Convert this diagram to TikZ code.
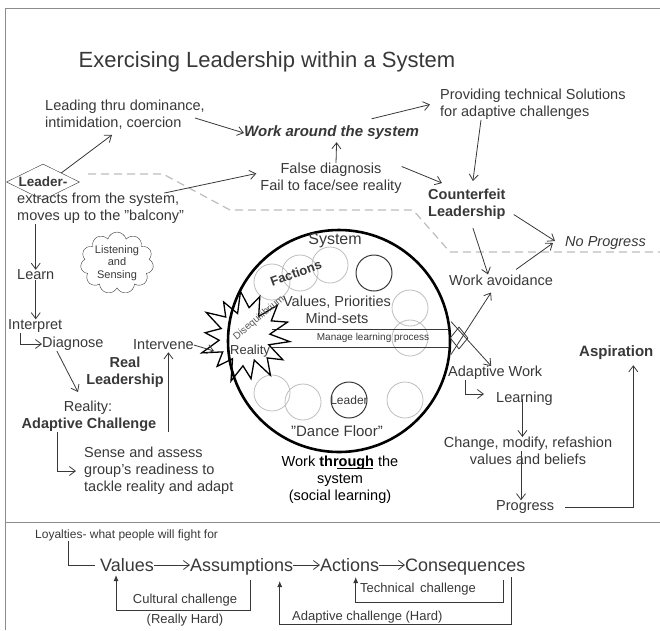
\documentclass[tikz,border=0pt]{standalone}
\usepackage{fontspec}
\setmainfont{Liberation Sans}
\usetikzlibrary{arrows.meta,shapes.geometric,shapes.symbols}
\definecolor{ink}{HTML}{383838}
\definecolor{faint}{HTML}{BDBDBD}
\definecolor{rule}{HTML}{8C8C8C}
\begin{document}
\begin{tikzpicture}[x=1pt,y=-1pt,
  >={Straight Barb[length=6pt,width=9pt]},
  txt/.style={inner sep=0pt,text=ink,font=\fontsize{14.5}{17}\selectfont},
  bold/.style={inner sep=0pt,text=ink,font=\fontsize{14.5}{17}\selectfont\bfseries},
  small/.style={inner sep=0pt,text=ink,font=\fontsize{10}{12}\selectfont},
  chain/.style={inner sep=0pt,text=ink,font=\fontsize{18}{20}\selectfont,anchor=base west},
  link/.style={->,ink,line width=0.8pt},
  uplink/.style={ink,line width=0.8pt,-{Latex[length=6pt,width=5pt]}},
  bracket/.style={ink,line width=0.8pt}]
\useasboundingbox (0,0) rectangle (660,630);
\draw[rule,line width=1pt] (5,630) -- (5,8) -- (660,8);
\draw[rule,line width=1pt] (5,522) -- (660,522);
\draw[faint,line width=1.2pt,dash pattern=on 8pt off 5pt]
  (88,174) -- (163,174) -- (230,210) -- (413,210) -- (450,252) -- (660,252);

% title and the upper (counterfeit) half
\node[inner sep=0pt,text=ink,font=\fontsize{22}{26}\selectfont] (title) at (267,62) {Exercising Leadership within a System};
\node[txt,anchor=west,align=left] (lead1) at (45,115) {Leading thru dominance,\\intimidation, coercion};
\node[inner sep=0pt,text=ink,font=\fontsize{15}{17}\selectfont\bfseries\itshape,anchor=west] (around) at (244,133) {Work around the system};
\node[txt,anchor=west,align=left] (prov) at (440,104.5) {Providing technical Solutions\\for adaptive challenges};
\node[diamond,draw=ink,aspect=2,minimum width=73pt,minimum height=36pt,inner sep=0pt,text=ink,
  font=\fontsize{13.5}{16}\selectfont\bfseries] (leader) at (43,182) {Leader-};
\node[txt,anchor=west,align=left] (extr) at (17,208.5) {extracts from the system,\\moves up to the "balcony"};
\node[txt,align=center] (false) at (331,178.5) {False diagnosis\\Fail to face/see reality};
\node[bold,anchor=west,align=left] (counter) at (428,204.5) {Counterfeit\\Leadership};
\node[txt,anchor=west,font=\fontsize{14.5}{17}\selectfont\itshape] (noprog) at (565,243) {No Progress};
\node[txt,anchor=west] (avoid) at (449,280) {Work avoidance};

\draw[link] (leader.north east) -- ([xshift=-13pt,yshift=-5pt]lead1.south);
\draw[link] ([xshift=-10pt,yshift=-3pt]lead1.east) -- (around.west);
\draw[link] ([xshift=40pt,yshift=7pt]around.north) -- ([xshift=-10pt]prov.west);
\draw[link] ([xshift=5pt]false.north) -- ([xshift=5pt,yshift=-2pt]around.south);
\draw[link] ([xshift=-20pt]extr.north east) -- ([xshift=-4pt,yshift=5pt]false.west);
\draw[link] ([yshift=12pt]false.east) -- ([xshift=14pt,yshift=6pt]counter.north west);
\draw[link] ([xshift=41pt]prov.south west) -- ([xshift=6pt,yshift=8pt]counter.north);
\draw[link] ([xshift=8pt,yshift=-10pt]counter.east) -- ([xshift=-10pt,yshift=2pt]noprog.west);
\draw[link] ([xshift=15pt,yshift=5pt]avoid.north) -- ([xshift=-12pt]noprog.west);
\draw[link] ([xshift=6pt,yshift=-8pt]counter.south) -- ([xshift=-13pt]avoid.north);

% left column (real leadership)
\node[txt,anchor=west] (learn) at (17,275) {Learn};
\node[txt,anchor=west] (interp) at (8,326) {Interpret};
\node[txt,anchor=west] (diag) at (42,344) {Diagnose};
\node[cloud,draw=ink,cloud puffs=11,aspect=1.3,minimum width=72pt,minimum height=58pt,inner sep=0pt,
  text=ink,align=center,font=\fontsize{11}{12.5}\selectfont] (cloud) at (117,263) {Listening\\and\\Sensing};
\node[txt,anchor=west] (interv) at (133,345) {Intervene};
\node[bold,align=center] (real) at (125,372) {Real\\Leadership};
\node[txt] (realc) at (88,408) {Reality:};
\node[bold] (adapt) at (89,425) {Adaptive Challenge};
\node[txt,anchor=west,align=left] (sense) at (84,471) {Sense and assess\\group's readiness to\\tackle reality and adapt};

\draw[link] (learn.north |- extr.south) -- (learn.north);
\draw[link] (learn.south) -- (learn.south |- interp.north);
\draw[link] ([xshift=12pt]interp.south west) |- (diag.west);
\draw[link] ([xshift=-16pt]diag.south) -- ([xshift=-10pt,yshift=9pt]realc.north);
\draw[link] ([xshift=5pt]interv.south |- adapt.south) -- ([xshift=5pt,yshift=-2pt]interv.south);
\draw[link] ([xshift=-32pt]adapt.south) |- ([xshift=-8pt]sense.west);

% the system
\node[circle,draw=black,line width=2.6pt,minimum size=222pt,inner sep=0pt] (sys) at (339,341) {};
\foreach \p in {(272,282),(300,273),(330,265),(410,308),(410,338),(272,393),(303,402),(405,400)}
  \draw[faint,line width=0.8pt] \p circle[radius=18];
\foreach \p in {(374,273),(349,400)}
  \draw[ink,line width=1pt] \p circle[radius=18];
\node[inner sep=0pt,text=ink,font=\fontsize{16}{18}\selectfont] (systxt) at (335,241) {System};
\node[inner sep=0pt,text=ink,rotate=20,font=\fontsize{13}{15}\selectfont\bfseries] (fact) at (296,273) {Factions};
\node[txt,align=center] (vals) at (337,310) {Values, Priorities\\Mind-sets};
\node[minimum width=177pt,minimum height=17pt,inner sep=0pt] (band) at (360.5,338.5) {};
\draw[ink,line width=0.8pt] (band.north west) -- (band.north east) (band.south west) -- (band.south east);
\node[small] (mlp) at (373,338) {Manage learning process};
\coordinate (starc) at (246,337);
\draw[black,line width=1.3pt,shift={(246,337)}] plot[samples at={0,...,27}]
  ({cos(\x*360/28+6)*(35.5+(8.5+3*sin(\x*97))*cos(180*\x))},{sin(\x*360/28+6)*(35.5+(8.5+3*sin(\x*97))*cos(180*\x))}) -- cycle;
\node[small,rotate=40,text=ink!85,font=\fontsize{10}{12}\selectfont] (diseq) at (259,318) {Disequilibrium};
\node[inner sep=0pt,text=ink,font=\fontsize{13}{15}\selectfont] (realit) at (250,351) {Reality};
\node[inner sep=0pt,text=ink,font=\fontsize{12}{14}\selectfont] (ldr) at (349,400) {Leader};
\node[inner sep=0pt,text=ink,font=\fontsize{15}{17}\selectfont] (floor) at (337,431) {"Dance Floor"};
\node[inner sep=0pt,text=black,align=center,font=\fontsize{14.5}{17}\selectfont] (through) at (340,480)
  {Work \textbf{through}\kern-37pt\rule[-2pt]{36pt}{1pt}\kern1pt{} the\\system\\(social learning)};
\draw[link] (interv.east) -- ([xshift=-32pt,yshift=-14pt]starc);

% right column (adaptive work)
\node[diamond,draw=ink,line width=0.8pt,minimum width=18pt,minimum height=22pt,inner sep=0pt] (xd) at (459,338) {};
\node[txt,anchor=west] (adwork) at (448,373) {Adaptive Work};
\node[txt,anchor=west] (learning) at (496,399) {Learning};
\node[txt,align=center] (change) at (528,451) {Change, modify, refashion\\values and beliefs};
\node[txt,anchor=west] (progress) at (496,507) {Progress};
\node[inner sep=0pt,text=ink,font=\fontsize{15}{17}\selectfont\bfseries,anchor=west] (aspir) at (579,353) {Aspiration};

\draw[link] ([xshift=-8pt,yshift=-5pt]xd.south) -- ([xshift=-10pt,yshift=-7pt]avoid.south);
\draw[link] ([xshift=-8pt,yshift=5pt]xd.north) -- ([xshift=-4pt]adwork.north);
\draw[link] ([xshift=17pt]adwork.south west) |- ([xshift=-12pt,yshift=5pt]learning.west);
\draw[link] ([xshift=-2pt]learning.center) -- ([xshift=-2pt]learning.center |- change.north);
\draw[link] ([xshift=-7pt]change.center) -- ([xshift=-7pt]change.center |- progress.north);
\draw[link] ([xshift=11pt]progress.east) -| ([xshift=17pt,yshift=-5pt]aspir.south);

% values chain
\node[inner sep=0pt,text=ink,anchor=west,font=\fontsize{12}{14}\selectfont] (loyal) at (35,535) {Loyalties- what people will fight for};
\node[chain] (values) at (100,571) {Values};
\node[chain] (assum) at (190,571) {Assumptions};
\node[chain] (actions) at (320,571) {Actions};
\node[chain] (conseq) at (405,571) {Consequences};
\node[txt,font=\fontsize{13}{15}\selectfont] (cult) at (185,600) {Cultural challenge};
\node[txt,font=\fontsize{13}{15}\selectfont] (hard) at (185,620) {(Really Hard)};
\node[txt,anchor=west,font=\fontsize{13}{15}\selectfont] (tech) at (360,589) {Technical\, challenge};
\node[txt,anchor=west,font=\fontsize{13}{15}\selectfont] (adch) at (292,617) {Adaptive challenge (Hard)};

\draw[bracket] ([xshift=33pt]loyal.south west) |- ([xshift=-5pt,yshift=6pt]values.base west);
\draw[link] ([yshift=6pt]values.base east) -- ([yshift=6pt]assum.base west);
\draw[link] ([yshift=6pt]assum.base east) -- ([yshift=6pt]actions.base west);
\draw[link] ([yshift=6pt]actions.base east) -- ([yshift=6pt]conseq.base west);
\draw[uplink] ([xshift=9pt,yshift=-9pt]assum.base) -- ++(0,30) -| ([xshift=-11pt,yshift=-4pt]values.base);
\draw[uplink] ([xshift=38pt,yshift=-9pt]conseq.base) -- ++(0,22) -| ([xshift=6pt,yshift=-6pt]actions.base);
\draw[uplink] ([xshift=46pt,yshift=-6pt]conseq.base) -- ++(0,47) -| ([xshift=38pt,yshift=-10pt]assum.base);
\end{tikzpicture}
\end{document}
